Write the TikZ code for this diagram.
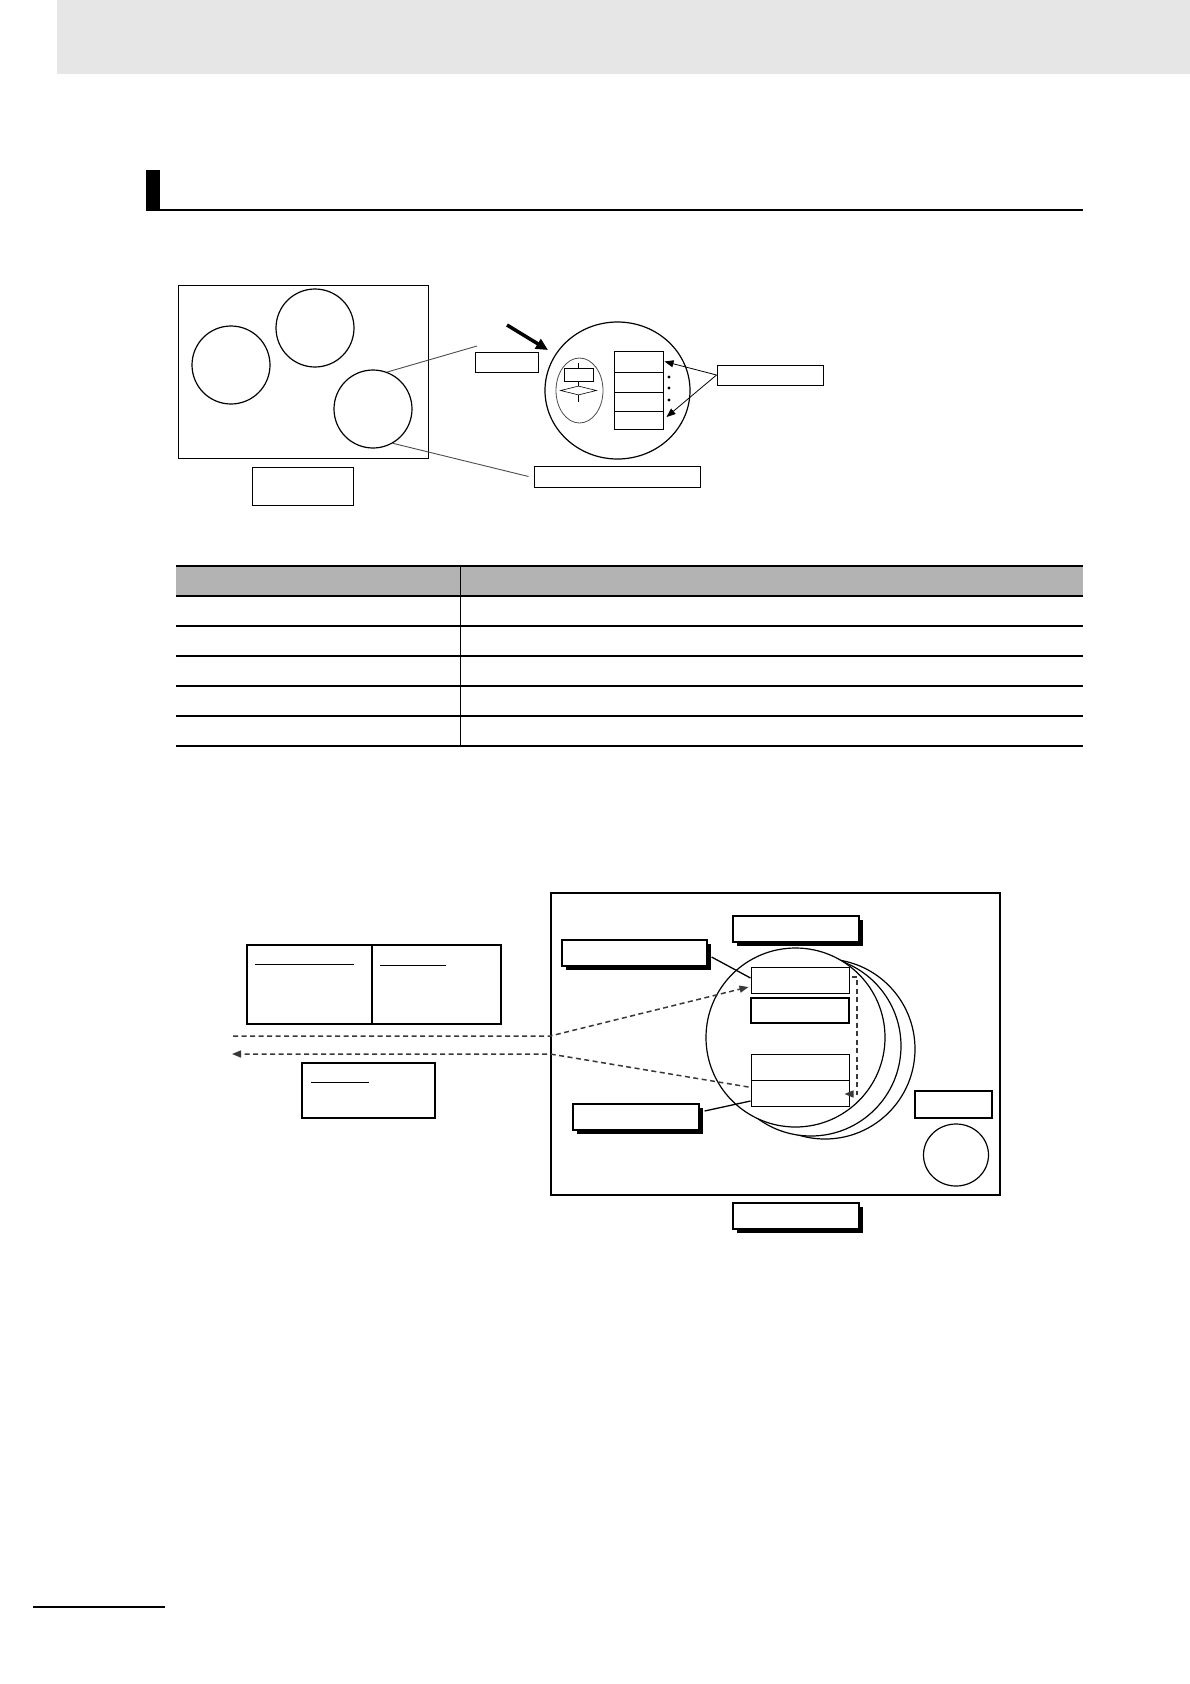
\documentclass[tikz,border=0pt]{standalone}
\usetikzlibrary{shapes.geometric,arrows.meta,shadows,calc}
\definecolor{bandgray}{HTML}{E6E6E6}
\definecolor{headgray}{HTML}{B3B3B3}
\definecolor{dashgray}{HTML}{383838}
\begin{document}
\begin{tikzpicture}[x=1pt,y=-1pt,
  bx/.style={draw, rectangle, line width=1pt, fill=white, inner sep=0pt},
  sbx/.style={bx, line width=1.2pt, drop shadow={shadow xshift=4pt, shadow yshift=-4pt, opacity=1, fill=black}},
  circ/.style={draw, circle, line width=1.2pt, fill=white, inner sep=0pt},
  ell/.style={draw, ellipse, line width=1.2pt, fill=white, inner sep=0pt},
  thinline/.style={line width=0.9pt, black!70},
  dashline/.style={dashgray, line width=1.5pt, dash pattern=on 5pt off 3.5pt},
  tipS/.style={-{Triangle[length=9pt,width=7pt]}},
  rule/.style={line width=1.2pt},
  thickrule/.style={line width=2.2pt}
]
\useasboundingbox (0,0) rectangle (1190,1684);

% page header band and section mark
\fill[bandgray] (57,0) rectangle (1190,74);
\fill[black] (146,170) rectangle (160,211);
\fill[black] (146,209) rectangle (1083,211);

% ===== top diagram =====
\node[bx, minimum width=250pt, minimum height=173pt, fill=none] (frameA) at (303,371.5) {};
\node[circ, minimum size=78pt] (ca) at (231,365) {};
\node[circ, minimum size=78pt] (cb) at (315,328) {};
\node[circ, minimum size=78pt] (cc) at (373,409) {};
\node[bx, minimum width=101pt, minimum height=38pt] (lblA) at (302.5,486) {};
\node[bx, minimum width=63pt, minimum height=20pt] (sm) at (506.5,362) {};
\node[ell, minimum width=145pt, minimum height=137pt] (zc) at (617.5,390.5) {};
\node[ell, line width=0.8pt, draw=black!70, minimum width=47pt, minimum height=65pt] (ie) at (579.5,390.5) {};
\node[bx, minimum width=29pt, minimum height=13pt] (fr) at (578.5,374.5) {};
\node[draw, diamond, aspect=4, line width=0.6pt, inner sep=0pt, minimum width=36pt, minimum height=9pt] (dm) at (578.5,390.5) {};
\draw[line width=0.8pt] (fr.north) -- ++(0,-5);
\draw[line width=0.8pt] (fr.south) -- (dm.north);
\draw[line width=0.8pt] (dm.south) -- ++(0,7);
\node[bx, minimum width=49pt, minimum height=21pt] (r1) at (638.5,361.5) {};
\node[bx, minimum width=49pt, minimum height=20pt] (r2) at (638.5,382) {};
\node[bx, minimum width=49pt, minimum height=19pt] (r3) at (638.5,401.5) {};
\node[bx, minimum width=49pt, minimum height=18pt] (r4) at (638.5,420) {};
\foreach \yy in {377,388,400} \fill (669,\yy) circle (1.6pt);
\node[bx, minimum width=106pt, minimum height=20pt] (lblR) at (770,375) {};
\node[bx, minimum width=166pt, minimum height=21pt] (lblB) at (617,476.5) {};
\coordinate (p1) at (477,346);
\draw[thinline] (cc.69) -- (p1);
\draw[thinline] (cc.-60) -- ([xshift=-5pt]lblB.west);
\draw[line width=0.8pt, tipS] (lblR.west) -- ([xshift=1pt]r1.east);
\draw[line width=0.8pt, tipS] (lblR.west) -- ([shift={(3,-3)}]r4.east);
\coordinate (ta) at (507,325);
\coordinate (tb) at (548,350);
\draw[line width=3.5pt, -{Triangle[length=12pt,width=11pt]}] (ta) -- (tb);

% ===== table =====
\fill[headgray] (176,566) rectangle (1083,596);
\draw[line width=1pt] (460,566) -- (460,746);
\draw[thickrule] (176,566) -- (1083,566);
\draw[thickrule] (176,596) -- (1083,596);
\foreach \yy in {626,656,686,716} \draw[rule] (176,\yy) -- (1083,\yy);
\draw[thickrule] (176,746) -- (1083,746);

% ===== bottom diagram =====
\node[bx, line width=1.5pt, fill=none, minimum width=449pt, minimum height=302pt] (frameB) at (775.5,1044) {};
\node[bx, line width=1.3pt, minimum width=125pt, minimum height=79pt] (lbA) at (309.5,984.5) {};
\node[bx, line width=1.3pt, minimum width=129pt, minimum height=79pt] (lbB) at (436.5,984.5) {};
\draw[line width=1pt] (255,964) -- (354,964);
\draw[line width=1pt] (380,965) -- (446,965);
\node[bx, line width=1.3pt, minimum width=133pt, minimum height=55pt] (bx2) at (368.5,1090.5) {};
\draw[line width=1pt] (311,1082) -- (369,1082);

\node[circ, minimum size=180pt] (k3) at (825,1049) {};
\node[circ, minimum size=180pt] (k2) at (811,1046) {};
\node[circ, minimum size=179pt] (k1) at (795.5,1037.5) {};

\node[bx, minimum width=98pt, minimum height=26pt] (bA) at (800,980) {};
\node[bx, line width=2pt, minimum width=98pt, minimum height=25pt] (bB) at (800,1010.5) {};
\node[bx, minimum width=98pt, minimum height=26pt] (bC) at (800,1067) {};
\node[bx, minimum width=98pt, minimum height=26pt] (bD) at (800,1093) {};

\node[sbx, minimum width=126pt, minimum height=26pt] (sT) at (796,929) {};
\node[sbx, minimum width=145pt, minimum height=26pt] (sL) at (634.5,953) {};
\node[sbx, minimum width=126pt, minimum height=26pt] (sLB) at (636,1117) {};
\node[sbx, minimum width=126pt, minimum height=26pt] (sB) at (796,1216) {};
\node[bx, line width=1.3pt, minimum width=77pt, minimum height=27pt] (rB) at (953.5,1104.5) {};
\node[ell, minimum width=65pt, minimum height=62pt] (sc) at (956,1155) {};

\draw[line width=1.3pt] ([shift={(4,4)}]sL.east) -- ([shift={(0,-2)}]bA.west);
\draw[line width=1.3pt] ([shift={(5,-6)}]sLB.east) -- ([shift={(0,8)}]bD.west);

\coordinate (d1s) at (233,1036);
\coordinate (d2e) at (232,1054);
\draw[dashline, tipS] (d1s) -- (frameB.west |- d1s) -- ([shift={(-2,7)}]bA.west);
\draw[dashline, tipS] ([shift={(-2,-6)}]bD.west) -- (frameB.west |- d2e) -- (d2e);
\draw[dashline, tipS] ([shift={(2,-3)}]bA.east) -- (857,977) -- (857,1094) -- ([shift={(-5,1)}]bD.east);

% page footer rule
\draw[line width=2pt] (33,1607) -- (165,1607);
\end{tikzpicture}
\end{document}
